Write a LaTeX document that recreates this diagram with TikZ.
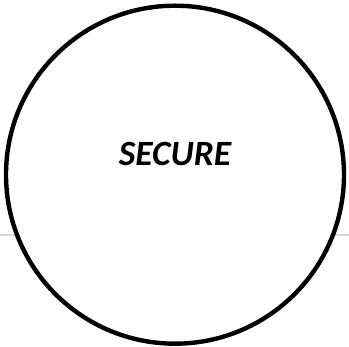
\documentclass[tikz,border=0pt]{standalone}
\usepackage{fontspec}
\setmainfont{Carlito}
\begin{document}
\begin{tikzpicture}[x=1pt,y=1pt,
  ring/.style={circle,draw=black,line width=4.4pt,fill=white,minimum size=338pt,inner sep=0pt},
  guide/.style={draw=black!15,line width=2pt},
  label/.style={font=\fontsize{35.5}{42}\selectfont\bfseries\itshape}]
\useasboundingbox (0,0) rectangle (349,347);
\coordinate (gl) at (0,112);
\coordinate (gr) at (349,112);
\draw[guide] (gl) -- (gr);
\node[ring] (c) at (175,172.3) {};
\node[label] (t) at (175,193) {SECURE};
\end{tikzpicture}
\end{document}
